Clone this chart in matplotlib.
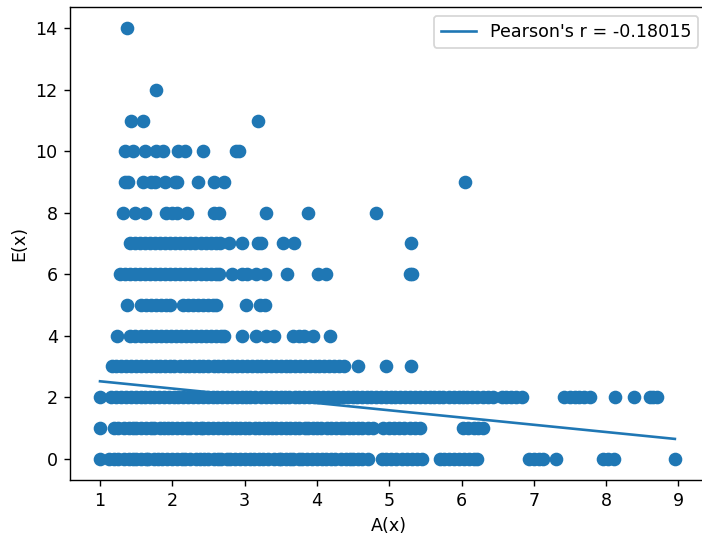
import matplotlib
matplotlib.use("Agg")
import matplotlib.pyplot as plt
import numpy as np

# A(x) values for each E(x) level
e0_x = [1.00, 1.13, 1.19, 1.25, 1.33, 1.40, 1.46, 1.50, 1.57, 1.63, 1.67, 1.75, 1.80, 1.86, 1.93, 2.00,
        2.06, 2.13, 2.17, 2.25, 2.33, 2.38, 2.44, 2.50, 2.57, 2.63, 2.67, 2.75, 2.80, 2.86, 2.93, 3.00,
        3.07, 3.13, 3.20, 3.25, 3.33, 3.40, 3.47, 3.50, 3.57, 3.63, 3.67, 3.75, 3.80, 3.86, 3.93, 4.00,
        4.07, 4.13, 4.20, 4.25, 4.33, 4.40, 4.46, 4.50, 4.57, 4.63, 4.70,
        4.90, 4.96, 5.03, 5.10, 5.17, 5.25, 5.31, 5.38, 5.45,
        5.70, 5.76, 5.83, 5.90, 5.96, 6.03, 6.10, 6.17, 6.22,
        6.93, 7.00, 7.07, 7.12, 7.31, 7.95, 8.03, 8.11, 8.95]
e1_x = [1.00, 1.20, 1.25, 1.33, 1.40, 1.45, 1.50, 1.57, 1.63, 1.70, 1.75, 1.83, 1.88, 1.94, 2.00, 2.06,
        2.14, 2.20, 2.25, 2.33, 2.40, 2.43, 2.50, 2.56, 2.63, 2.70, 2.75, 2.83, 2.88, 2.94, 3.00, 3.06,
        3.14, 3.20, 3.27, 3.33, 3.38, 3.44, 3.50, 3.57, 3.63, 3.70, 3.75, 3.83, 3.88, 3.94, 4.00, 4.06,
        4.14, 4.20, 4.27, 4.33, 4.38, 4.44, 4.50, 4.57, 4.63, 4.70, 4.78,
        4.92, 5.00, 5.07, 5.14, 5.20, 5.29, 5.36, 5.42,
        6.02, 6.09, 6.17, 6.23, 6.30]
e2_x = [1.00, 1.15, 1.22, 1.29, 1.36, 1.43, 1.50, 1.56, 1.62, 1.69, 1.75, 1.82, 1.89, 1.96, 2.02, 2.08,
        2.15, 2.22, 2.29, 2.36, 2.43, 2.50, 2.56, 2.62, 2.69, 2.75, 2.82, 2.89, 2.96, 3.02, 3.08, 3.15,
        3.22, 3.29, 3.36, 3.43, 3.50, 3.56, 3.62, 3.69, 3.75, 3.82, 3.89, 3.96, 4.02, 4.08, 4.15, 4.22,
        4.29, 4.36, 4.43, 4.50, 4.56, 4.62, 4.69, 4.75, 4.82, 4.89, 4.96, 5.02, 5.08, 5.15, 5.22, 5.29,
        5.36, 5.43, 5.50, 5.56, 5.62, 5.69, 5.75, 5.82, 5.89, 5.96, 6.02, 6.08, 6.15, 6.22, 6.29, 6.36,
        6.43, 6.56, 6.62, 6.69, 6.75, 6.83,
        7.42, 7.50, 7.57, 7.63, 7.70, 7.78, 8.12, 8.39, 8.60, 8.65, 8.70]
e3_x = [1.16, 1.22, 1.29, 1.36, 1.43, 1.50, 1.57, 1.63, 1.70, 1.77, 1.83, 1.90, 1.97, 2.03, 2.10, 2.17,
        2.23, 2.30, 2.37, 2.43, 2.50, 2.57, 2.63, 2.70, 2.77, 2.83, 2.90, 2.97, 3.03, 3.10, 3.17, 3.23,
        3.30, 3.37, 3.43, 3.50, 3.57, 3.63, 3.70, 3.77, 3.83, 3.90, 3.97, 4.03, 4.10, 4.17, 4.23, 4.30,
        4.37, 4.57, 4.96, 5.30]
e4_x = [1.23, 1.42, 1.49, 1.56, 1.63, 1.70, 1.77, 1.84, 1.91, 1.98, 2.05, 2.12, 2.19, 2.26, 2.33, 2.40,
        2.47, 2.54, 2.61, 2.67, 2.72, 2.96, 3.16, 3.30, 3.40, 3.67, 3.75, 3.82, 3.95, 4.18]
e5_x = [1.37, 1.56, 1.63, 1.70, 1.77, 1.84, 1.91, 1.97, 2.15, 2.22, 2.29, 2.36, 2.43, 2.50, 2.56, 2.60,
        3.02, 3.21, 3.28]
e6_x = [1.27, 1.34, 1.41, 1.48, 1.55, 1.62, 1.69, 1.76, 1.83, 1.90, 1.97, 2.04, 2.11, 2.18, 2.25, 2.32,
        2.39, 2.46, 2.53, 2.60, 2.64, 2.82, 2.96, 3.03, 3.16, 3.28, 3.58, 4.02, 4.13, 5.29, 5.32]
e7_x = [1.41, 1.48, 1.55, 1.62, 1.69, 1.76, 1.83, 1.90, 1.97, 2.04, 2.11, 2.18, 2.25, 2.32, 2.39, 2.46,
        2.53, 2.60, 2.66, 2.79, 2.96, 3.19, 3.23, 3.53, 3.68, 5.30]
e8_x = [1.32, 1.49, 1.62, 1.91, 2.00, 2.06, 2.20, 2.57, 2.64, 3.29, 3.88, 4.82]
e9_x = [1.34, 1.39, 1.60, 1.71, 1.76, 1.90, 2.04, 2.07, 2.35, 2.57, 2.71, 6.05]
e10_x = [1.34, 1.46, 1.62, 1.78, 1.87, 2.08, 2.18, 2.43, 2.88, 2.92]
e11_x = [1.43, 1.60, 3.19]
e12_x = [1.77]
e14_x = [1.38]

levels = {0: e0_x, 1: e1_x, 2: e2_x, 3: e3_x, 4: e4_x, 5: e5_x, 6: e6_x, 7: e7_x,
          8: e8_x, 9: e9_x, 10: e10_x, 11: e11_x, 12: e12_x, 14: e14_x}

# fitted line
fit_slope = -0.236
fit_intercept = 2.75
legend_label = "Pearson's r = -0.18015"

x = np.concatenate([np.asarray(v, dtype=float) for v in levels.values()])
y = np.concatenate([np.full(len(v), k, dtype=float) for k, v in levels.items()])

dpi = 126
fig = plt.figure(figsize=(702 / dpi, 535 / dpi), dpi=dpi)
# axes extend slightly past the right edge of the image (cropped original)
ax = fig.add_axes([70 / 702, 55 / 535, 637 / 702, 473 / 535])

ax.scatter(x, y, s=46, color="#1f77b4")
xs = np.array([x.min(), x.max()])
ax.plot(xs, fit_intercept + fit_slope * xs, color="#1f77b4", label=legend_label)

ax.set_xlim(0.585, 0.585 + 637 / 72.31)
ax.set_ylim(-0.7, 14.7)
ax.set_xlabel("A(x)")
ax.set_ylabel("E(x)")
ax.set_yticks(np.arange(0, 15, 2))
ax.spines["right"].set_visible(False)
ax.legend(loc="upper right")

fig.savefig("out.png", dpi=dpi)
